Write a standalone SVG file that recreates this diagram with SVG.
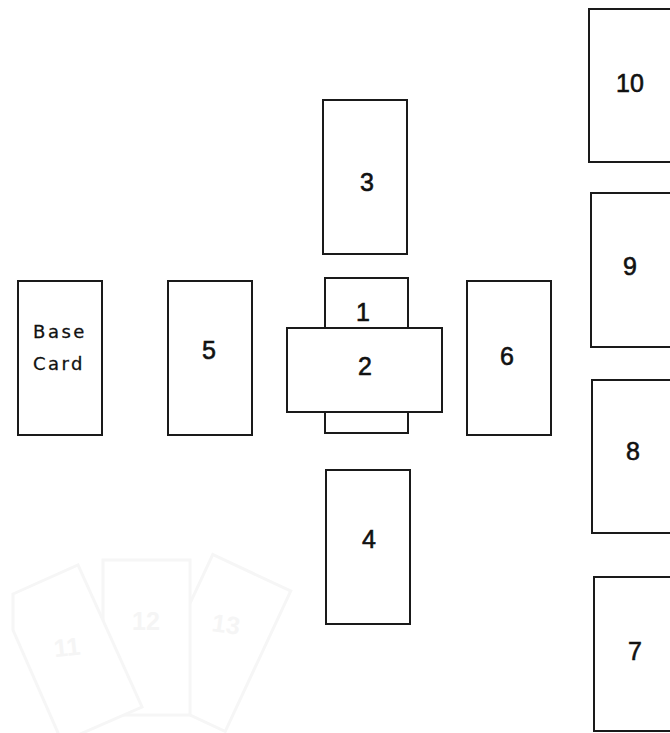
<svg xmlns="http://www.w3.org/2000/svg" width="670" height="733" viewBox="0 0 670 733">
<style>
.card{fill:#fff;stroke:#1a1a1a;stroke-width:2}
.num{font-family:"Liberation Sans",Arial,sans-serif;font-size:25px;fill:#111;stroke:#111;stroke-width:0.6;text-anchor:middle}
.base{font-family:"DejaVu Sans","Liberation Sans",sans-serif;font-size:18px;fill:#111;stroke:#111;stroke-width:0.3;text-anchor:middle;letter-spacing:2.5px}
.ghost{fill:#fff;stroke:#f6f6f6;stroke-width:3}
.gnum{font-family:"Liberation Sans",Arial,sans-serif;font-size:25px;font-weight:bold;fill:#f5f5f5;text-anchor:middle}
</style>
<rect width="670" height="733" fill="#fff"/>
<g id="card13">
<rect class="ghost" x="-43" y="-77.5" width="86" height="155" transform="translate(219,643) rotate(25)"/>
<text class="gnum" x="226" y="633" transform="rotate(8 226 625)">13</text>
</g>
<g id="card12">
<rect class="ghost" x="103" y="560" width="87" height="155"/>
<text class="gnum" x="146" y="630">12</text>
</g>
<g id="card11">
<polygon class="ghost" points="13,594 78,565 142,707 62,742 13,630"/>
<text class="gnum" x="67" y="656" transform="rotate(-6 67 648)">11</text>
</g>
<g id="base">
<rect class="card" x="18" y="281" width="84" height="154"/>
<text class="base" x="60" y="338">Base</text>
<text class="base" x="59" y="370">Card</text>
</g>
<g id="card5">
<rect class="card" x="168" y="281" width="84" height="154"/>
<text class="num" x="209" y="359">5</text>
</g>
<g id="card3">
<rect class="card" x="323" y="100" width="84" height="154"/>
<text class="num" x="367" y="191">3</text>
</g>
<g id="card1">
<rect class="card" x="325" y="278" width="83" height="155"/>
<text class="num" x="363" y="321">1</text>
</g>
<g id="card2">
<rect class="card" x="287" y="328" width="155" height="84"/>
<text class="num" x="365" y="375">2</text>
</g>
<g id="card6">
<rect class="card" x="467" y="281" width="84" height="154"/>
<text class="num" x="507" y="365">6</text>
</g>
<g id="card4">
<rect class="card" x="326" y="470" width="84" height="154"/>
<text class="num" x="369" y="548">4</text>
</g>
<g id="card10">
<rect class="card" x="589" y="9" width="86" height="153"/>
<text class="num" x="630" y="92">10</text>
</g>
<g id="card9">
<rect class="card" x="591" y="193" width="86" height="154"/>
<text class="num" x="630" y="275">9</text>
</g>
<g id="card8">
<rect class="card" x="592" y="380" width="86" height="153"/>
<text class="num" x="633" y="460">8</text>
</g>
<g id="card7">
<rect class="card" x="594" y="577" width="86" height="154"/>
<text class="num" x="635" y="660">7</text>
</g>
<g id="connectors"/>
</svg>
